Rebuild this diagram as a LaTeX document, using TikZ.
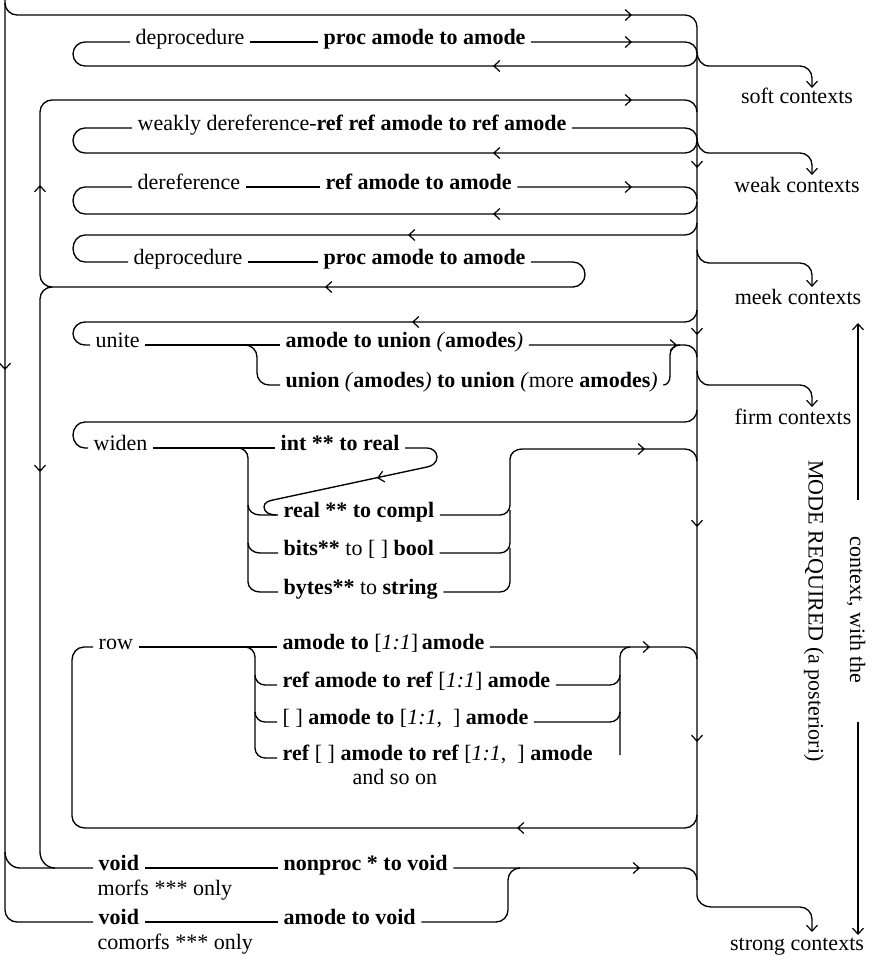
\documentclass[tikz,border=0pt]{standalone}
\usepackage{fontspec}
\setmainfont{Liberation Serif}
\usetikzlibrary{arrows.meta,calc}
\newcommand\fsz{\fontsize{22}{26}\selectfont}
\newcommand\atip[3]{\draw[tp] ($(#1,-#2)+(#3:-3pt)$) -- (#1,-#2);}
\begin{document}
\begin{tikzpicture}[x=1pt,y=1pt,line width=1.35pt,
  lbl/.style={inner xsep=5pt,inner ysep=1pt,anchor=mid west,font=\fsz},
  ctx/.style={inner sep=1pt,anchor=mid,font=\fsz},
  rot/.style={inner sep=1pt,rotate=-90,font=\fsz},
  tp/.style={-{Straight Barb[length=6pt,width=11pt,line width=1.2pt]}}]
\useasboundingbox (0,0) rectangle (880,-967);
\fill[white] (0,0) rectangle (880,-967);

% ---------- text nodes ----------
\node[lbl] (dp1) at (130,-42) {deprocedure};
\node[lbl] (pr1) at (318,-42) {\textbf{proc amode to amode}};
\node[lbl] (wd) at (132,-128) {weakly dereference-\textbf{ref ref amode to ref amode}};
\node[lbl] (dr) at (132,-187) {dereference};
\node[lbl] (rf) at (320,-187) {\textbf{ref amode to amode}};
\node[lbl] (dp2) at (128,-262) {deprocedure};
\node[lbl] (pr2) at (318,-262) {\textbf{proc amode to amode}};
\node[lbl] (un) at (90,-345) {unite};
\node[lbl] (au) at (280,-345) {\textbf{amode to union} \textit{(}\textbf{amodes}\textit{)}};
\node[lbl] (uu) at (280,-385) {\textbf{union} \textit{(}\textbf{amodes}\textit{)} \textbf{to union} \textit{(}more \textbf{amodes}\textit{)}};
\node[lbl] (wi) at (88,-448) {widen};
\node[lbl] (ir) at (275,-448) {\textbf{int ** to real}};
\node[lbl] (rc) at (278,-515) {\textbf{real ** to compl}};
\node[lbl] (bb) at (278,-553) {\textbf{bits**} to [ ] \textbf{bool}};
\node[lbl] (bs) at (278,-592) {\textbf{bytes**} to \textbf{string}};
\node[lbl] (ro) at (93,-647) {row};
\node[lbl] (r1) at (277,-647) {\textbf{amode to} [\textit{1:1}]\,\textbf{amode}};
\node[lbl] (r2) at (277,-685) {\textbf{ref amode to ref} [\textit{1:1}] \textbf{amode}};
\node[lbl] (r3) at (277,-722) {[ ] \textbf{amode to} [\textit{1:1}, \ ] \textbf{amode}};
\node[lbl] (r4) at (277,-758) {\textbf{ref} [ ] \textbf{amode to ref} [\textit{1:1}, \ ] \textbf{amode}};
\node[lbl] (so) at (347,-782) {and so on};
\node[lbl] (v1) at (93,-868) {\textbf{void}};
\node[lbl] (np) at (278,-868) {\textbf{nonproc * to void}};
\node[lbl] (mo) at (92,-893) {morfs *** only};
\node[lbl] (v2) at (93,-922) {\textbf{void}};
\node[lbl] (av) at (278,-922) {\textbf{amode to void}};
\node[lbl] (co) at (92,-947) {comorfs *** only};
\node[ctx] (soft) at (797,-101) {soft contexts};
\node[ctx] (weak) at (797,-190) {weak contexts};
\node[ctx] (meek) at (798,-302) {meek contexts};
\node[ctx] (firm) at (793,-422) {firm contexts};
\node[ctx] (strong) at (797,-948) {strong contexts};
\node[rot] (cw) at (856,-610) {context, with the};
\node[rot] (mr) at (814,-611) {MODE REQUIRED (a posteriori)};

% ---------- top line and trunk ----------
\draw[tp] (5,-3) to[out=-90,in=180] (17,-15) -- (685,-15) to[out=0,in=90] (697,-27)
  -- (697,-895) to[out=-90,in=180] (711,-907) -- (800,-907) to[out=0,in=90] (812,-919) -- (812,-932);
\atip{632}{15}{0}
\atip{697}{168}{-90}
\atip{697}{335}{-90}
\atip{697}{527}{-90}
\atip{697}{742}{-90}

% ---------- outer left line ----------
\draw (5,0) -- (5,-910) to[out=-90,in=180] (17,-922) -- (v2.mid west);
\draw (5,-852) to[out=-90,in=180] (20,-868) -- (v1.mid west);
\atip{5}{370}{-90}

% ---------- x=40 lines ----------
\draw (573,-287) -- (52,-287) to[out=180,in=-90] (40,-275) -- (40,-112)
  to[out=90,in=180] (52,-100) -- (685,-100) to[out=0,in=90] (697,-112);
\draw (52,-287) to[out=180,in=90] (40,-299) -- (40,-852) to[out=-90,in=180] (55,-868);
\atip{325}{287}{180}
\atip{40}{185}{90}
\atip{632}{100}{0}
\atip{40}{472}{-90}

% ---------- soft loop ----------
\draw (dp1.mid west) -- (85,-42) to[out=180,in=90] (73,-54) to[out=-90,in=180] (85,-66)
  -- (685,-66) to[out=0,in=-90] (697,-55);
\draw (dp1.mid east) -- (pr1.mid west);
\draw (pr1.mid east) -- (685,-42) to[out=0,in=90] (697,-53);
\draw[tp] (697,-52) to[out=-90,in=180] (709,-66) -- (800,-66) to[out=0,in=90] (812,-78) -- (812,-88);
\atip{632}{42}{0}
\atip{493}{66}{180}

% ---------- weak loop ----------
\draw (wd.mid west) -- (85,-128) to[out=180,in=90] (73,-140.5) to[out=-90,in=180] (85,-153)
  -- (685,-153) to[out=0,in=-90] (697,-141);
\draw (wd.mid east) -- (685,-128) to[out=0,in=90] (697,-139);
\draw[tp] (697,-138) to[out=-90,in=180] (709,-153) -- (800,-153) to[out=0,in=90] (812,-165) -- (812,-175);
\atip{493}{153}{180}

% ---------- dereference loop ----------
\draw (dr.mid west) -- (85,-187) to[out=180,in=90] (73,-200.5) to[out=-90,in=180] (85,-214)
  -- (685,-214) to[out=0,in=-90] (697,-202);
\draw (dr.mid east) -- (rf.mid west);
\draw (rf.mid east) -- (685,-187) to[out=0,in=90] (697,-199);
\atip{632}{187}{0}
\atip{493}{214}{180}

% ---------- meek deprocedure loop ----------
\draw (697,-223) to[out=-90,in=0] (685,-235) -- (85,-235) to[out=180,in=90] (73,-248.5)
  to[out=-90,in=180] (85,-262) -- (dp2.mid west);
\draw (dp2.mid east) -- (pr2.mid west);
\draw (pr2.mid east) -- (573,-262) to[out=0,in=90] (585,-274.5) to[out=-90,in=0] (573,-287);
\draw[tp] (697,-250) to[out=-90,in=180] (709,-263) -- (800,-263) to[out=0,in=90] (812,-275) -- (812,-287);
\atip{408}{235}{180}

% ---------- unite loop ----------
\draw (697,-310) to[out=-90,in=0] (685,-322) -- (85,-322) to[out=180,in=90] (73,-333.5)
  to[out=-90,in=180] (85,-345) -- (un.mid west);
\draw (un.mid east) -- (au.mid west);
\draw (245,-345) to[out=0,in=90] (257,-357) -- (257,-373) to[out=-90,in=180] (269,-385) -- (uu.mid west);
\draw (au.mid east) -- (685,-345) to[out=0,in=90] (697,-357);
\draw (uu.mid east) to[out=0,in=-90] (670,-376) -- (670,-355) to[out=90,in=180] (680,-345);
\draw[tp] (697,-371) to[out=-90,in=180] (709,-385) -- (800,-385) to[out=0,in=90] (812,-397) -- (812,-407);
\atip{412}{322}{180}
\atip{677}{345}{0}

% ---------- widen loop ----------
\draw (697,-410) to[out=-90,in=0] (685,-422) -- (85,-422) to[out=180,in=90] (73,-435)
  to[out=-90,in=180] (85,-448) -- (wi.mid west);
\draw (wi.mid east) -- (ir.mid west);
\draw (238,-448) to[out=0,in=90] (248,-458) -- (248,-582) to[out=-90,in=180] (260,-592) -- (bs.mid west);
\draw (248,-505) to[out=-90,in=180] (260,-515) -- (rc.mid west);
\draw (248,-543) to[out=-90,in=180] (260,-553) -- (bb.mid west);
\draw (ir.mid east) -- (427,-448) to[out=0,in=90] (437,-457) to[out=-90,in=10] (427,-467)
  -- (273,-500) to[out=190,in=90] (264,-507) to[out=-90,in=180] (276,-515);
\atip{377}{478}{192}
\draw (rc.mid east) -- (500,-515) to[out=0,in=-90] (510,-505) -- (510,-459)
  to[out=90,in=180] (522,-449) -- (685,-449) to[out=0,in=90] (697,-461);
\draw (bb.mid east) -- (500,-553) to[out=0,in=-90] (510,-543) -- (510,-510);
\draw (bs.mid east) -- (500,-592) to[out=0,in=-90] (510,-582) -- (510,-548);
\atip{645}{449}{0}

% ---------- row loop ----------
\draw (697,-815) to[out=-90,in=0] (685,-828) -- (85,-828) to[out=180,in=-90] (72,-816)
  -- (72,-660) to[out=90,in=180] (84,-647) -- (ro.mid west);
\draw (ro.mid east) -- (r1.mid west);
\draw (245,-647) to[out=0,in=90] (255,-657) -- (255,-748) to[out=-90,in=180] (265,-758) -- (r4.mid west);
\draw (255,-675) to[out=-90,in=180] (265,-685) -- (r2.mid west);
\draw (255,-712) to[out=-90,in=180] (265,-722) -- (r3.mid west);
\draw (r1.mid east) -- (685,-647) to[out=0,in=90] (697,-659);
\draw (620,-755) -- (620,-657) to[out=90,in=180] (630,-647);
\draw (r2.mid east) -- (610,-685) to[out=0,in=-90] (620,-675);
\draw (r3.mid east) -- (610,-722) to[out=0,in=-90] (620,-712);
\atip{517}{828}{180}
\atip{650}{647}{0}

% ---------- void ----------
\draw (v1.mid east) -- (np.mid west);
\draw (np.mid east) -- (685,-868) to[out=0,in=90] (697,-880);
\draw (v2.mid east) -- (av.mid west);
\draw (av.mid east) -- (496,-922) to[out=0,in=-90] (508,-910) -- (508,-880) to[out=90,in=180] (520,-868);
\atip{640}{868}{0}

% ---------- right vertical arrow ----------
\draw[tp] (858,-500) -- (858,-323);
\draw[tp] (858,-722) -- (858,-935);
\end{tikzpicture}
\end{document}
